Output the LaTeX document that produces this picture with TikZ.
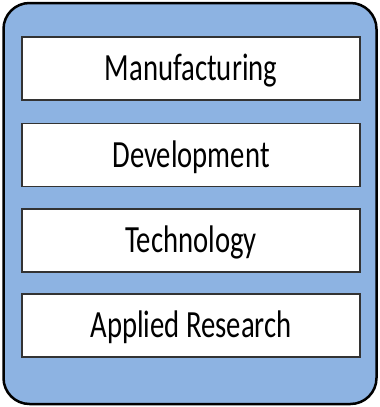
\documentclass[tikz,border=0pt]{standalone}
\usepackage{fontspec}
\setmainfont{Carlito}
\definecolor{outerblue}{HTML}{8DB3E2}
\definecolor{boxline}{HTML}{333333}
\begin{document}
\begin{tikzpicture}[x=1pt,y=-1pt,
  layer/.style={draw=boxline,line width=1.5pt,fill=white,minimum width=338pt,minimum height=63pt,inner sep=0pt},
  lbl/.style={anchor=base,inner sep=0pt,text=black,font=\fontsize{28.7}{30}\selectfont,yscale=1.34}]
\useasboundingbox (0,0) rectangle (380,407);
\node[draw=black,line width=2.5pt,fill=outerblue,rounded corners=26pt,minimum width=373pt,minimum height=401pt,inner sep=0pt] (outer) at (190,203.5) {};
\node[layer] (m) at (191,68.5) {};
\node[layer] (d) at (191,155) {};
\node[layer] (t) at (191,240.5) {};
\node[layer] (a) at (191,325.5) {};
\node[lbl] (ml) at ([yshift=-12.3pt]m.center) {Manufacturing};
\node[lbl] (dl) at ([yshift=-12.3pt]d.center) {Development};
\node[lbl] (tl) at ([yshift=-12.3pt]t.center) {Technology};
\node[lbl] (al) at ([yshift=-12.3pt]a.center) {Applied Research};
\end{tikzpicture}
\end{document}
